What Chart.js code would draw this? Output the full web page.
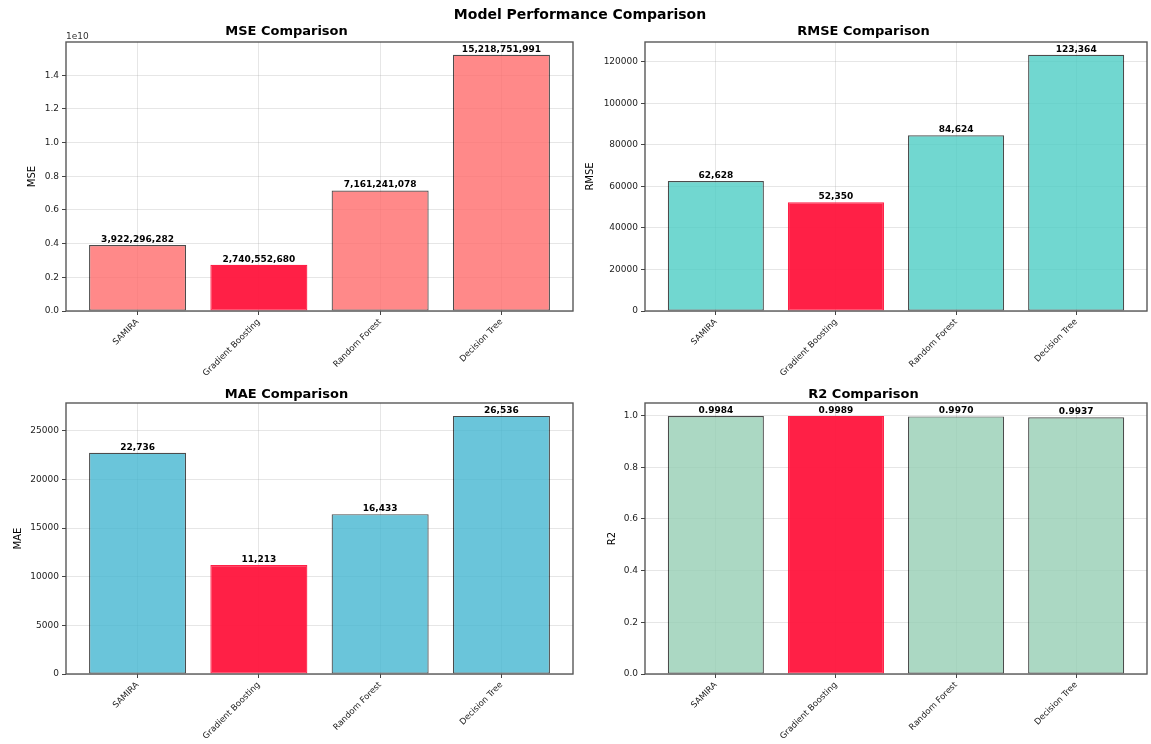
<!DOCTYPE html>
<html>
<head>
<meta charset="utf-8">
<title>Model Performance Comparison</title>
<script src="https://cdn.jsdelivr.net/npm/chart.js@4.4.1/dist/chart.umd.min.js"></script>
<style>
  html, body { margin: 0; padding: 0; background: #fff; }
  body { width: 1151px; height: 744px; position: relative; overflow: hidden; font-family: "DejaVu Sans", sans-serif; }
  .panel { position: absolute; }
  .panel canvas { display: block; }
  #suptitle {
    position: absolute; left: 0; width: 1160px; top: 6px; text-align: center;
    font: bold 14px "DejaVu Sans", sans-serif; color: #000; z-index: 5;
  }
</style>
</head>
<body>
<div id="suptitle">Model Performance Comparison</div>
<div class="panel" style="left:0;top:0;width:580px;height:380px"><canvas id="mse"></canvas></div>
<div class="panel" style="left:580px;top:0;width:571px;height:380px"><canvas id="rmse"></canvas></div>
<div class="panel" style="left:0;top:361px;width:580px;height:383px"><canvas id="mae"></canvas></div>
<div class="panel" style="left:580px;top:361px;width:571px;height:383px"><canvas id="r2"></canvas></div>
<script>
// Models compared in every panel
const CATEGORIES = ['SAMIRA', 'Gradient Boosting', 'Random Forest', 'Decision Tree'];

// Metric values per model
const MSE_VALUES  = [3922296282, 2740552680, 7161241078, 15218751991];
const RMSE_VALUES = [62628, 52350, 84624, 123364];
const MAE_VALUES  = [22736, 11213, 16433, 26536];
const R2_VALUES   = [0.9984, 0.9989, 0.9970, 0.9937];

// Y tick positions per metric
const MSE_TICKS  = [0, 2e9, 4e9, 6e9, 8e9, 1e10, 1.2e10, 1.4e10];
const RMSE_TICKS = [0, 20000, 40000, 60000, 80000, 100000, 120000];
const MAE_TICKS  = [0, 5000, 10000, 15000, 20000, 25000];
const R2_TICKS   = [0, 0.2, 0.4, 0.6, 0.8, 1.0];

const FONT = '"DejaVu Sans", sans-serif';
const HIGHLIGHT = 'rgba(255,20,60,0.95)';

// Value labels above bars, plot frame and optional exponent text
const barDecor = {
  id: 'barDecor',
  afterDatasetsDraw(chart, args, opts) {
    const ctx = chart.ctx;
    const area = chart.chartArea;
    const meta = chart.getDatasetMeta(0);
    ctx.save();
    ctx.font = 'bold 9px ' + FONT;
    ctx.fillStyle = '#000';
    ctx.textAlign = 'center';
    ctx.textBaseline = 'bottom';
    meta.data.forEach((bar, i) => {
      ctx.fillText(opts.labels[i], bar.x, bar.y - 1);
    });
    ctx.strokeStyle = 'rgba(70,70,70,0.9)';
    ctx.lineWidth = 1.4;
    ctx.strokeRect(area.left, area.top, area.right - area.left, area.bottom - area.top);
    if (opts.offsetText) {
      ctx.font = '9px ' + FONT;
      ctx.fillStyle = '#333';
      ctx.textAlign = 'left';
      ctx.textBaseline = 'bottom';
      ctx.fillText(opts.offsetText, area.left, area.top - 1);
    }
    ctx.restore();
  }
};

const gridStyle = {
  color: 'rgba(165,165,165,0.35)',
  lineWidth: 0.8,
  drawTicks: true,
  tickLength: 4,
  tickColor: '#444',
  tickWidth: 1,
  offset: false
};

function makeChart(id, p) {
  const values = p.values;
  const best = p.higherIsBetter
    ? values.indexOf(Math.max(...values))
    : values.indexOf(Math.min(...values));
  const fills = values.map((v, i) => i === best ? HIGHLIGHT : p.color);
  const edges = values.map((v, i) => i === best ? HIGHLIGHT : 'rgba(0,0,0,0.7)');
  const top = Math.max(...values) * 1.05;

  return new Chart(document.getElementById(id), {
    type: 'bar',
    data: {
      datasets: [{
        data: values.map((v, i) => ({ x: i, y: v })),
        backgroundColor: fills,
        borderColor: edges,
        borderWidth: 1.2,
        borderSkipped: false,
        categoryPercentage: 1.0,
        barPercentage: 0.8
      }]
    },
    options: {
      responsive: true,
      maintainAspectRatio: false,
      devicePixelRatio: 1,
      animation: false,
      events: [],
      layout: { padding: { left: 0, right: p.padRight, top: 0, bottom: 0 } },
      plugins: {
        legend: { display: false },
        tooltip: { enabled: false },
        title: {
          display: true,
          text: p.title,
          color: '#000',
          font: { family: FONT, size: 13, weight: 'bold', lineHeight: 1.2 },
          padding: { top: p.titleTop, bottom: 42 - 15.6 - p.titleTop }
        },
        barDecor: { labels: values.map(p.fmt), offsetText: p.offsetText || '' }
      },
      scales: {
        x: {
          type: 'linear',
          offset: false,
          min: -0.59,
          max: 3.59,
          afterBuildTicks(scale) {
            scale.ticks = CATEGORIES.map((c, i) => ({ value: i }));
          },
          afterFit(scale) { scale.height = p.xHeight; },
          border: { display: false },
          grid: gridStyle,
          ticks: {
            autoSkip: false,
            minRotation: 45,
            maxRotation: 45,
            padding: 2,
            color: '#222',
            font: { family: FONT, size: 8.5 },
            callback: (v) => CATEGORIES[v]
          }
        },
        y: {
          min: 0,
          max: top,
          afterBuildTicks(scale) {
            scale.ticks = p.ticks.map((v) => ({ value: v }));
          },
          afterFit(scale) { scale.width = p.yWidth; },
          border: { display: false },
          grid: gridStyle,
          ticks: {
            autoSkip: false,
            padding: 3,
            color: '#222',
            font: { family: FONT, size: 9 },
            callback: p.tick
          },
          title: {
            display: true,
            text: p.yLabel,
            color: '#000',
            font: { family: FONT, size: 10, lineHeight: 1.2 },
            padding: { top: p.yTitlePad, bottom: 0 }
          }
        }
      }
    },
    plugins: [barDecor]
  });
}

const intFmt = (v) => Math.round(v).toLocaleString('en-US');

makeChart('mse', {
  title: 'MSE Comparison', yLabel: 'MSE', values: MSE_VALUES, ticks: MSE_TICKS,
  color: 'rgba(255,107,107,0.8)', higherIsBetter: false,
  tick: (v) => (v / 1e10).toFixed(1), fmt: intFmt, offsetText: '1e10',
  padRight: 7, yWidth: 66, xHeight: 69, titleTop: 24, yTitlePad: 26
});
makeChart('rmse', {
  title: 'RMSE Comparison', yLabel: 'RMSE', values: RMSE_VALUES, ticks: RMSE_TICKS,
  color: 'rgba(78,205,196,0.8)', higherIsBetter: false,
  tick: (v) => String(Math.round(v)), fmt: intFmt,
  padRight: 4, yWidth: 65, xHeight: 69, titleTop: 24, yTitlePad: 4
});
makeChart('mae', {
  title: 'MAE Comparison', yLabel: 'MAE', values: MAE_VALUES, ticks: MAE_TICKS,
  color: 'rgba(69,183,209,0.8)', higherIsBetter: false,
  tick: (v) => String(Math.round(v)), fmt: intFmt,
  padRight: 7, yWidth: 66, xHeight: 70, titleTop: 26, yTitlePad: 12
});
makeChart('r2', {
  title: 'R2 Comparison', yLabel: 'R2', values: R2_VALUES, ticks: R2_TICKS,
  color: 'rgba(150,206,180,0.8)', higherIsBetter: true,
  tick: (v) => v.toFixed(1), fmt: (v) => v.toFixed(4),
  padRight: 4, yWidth: 65, xHeight: 70, titleTop: 26, yTitlePad: 26
});
</script>
</body>
</html>
